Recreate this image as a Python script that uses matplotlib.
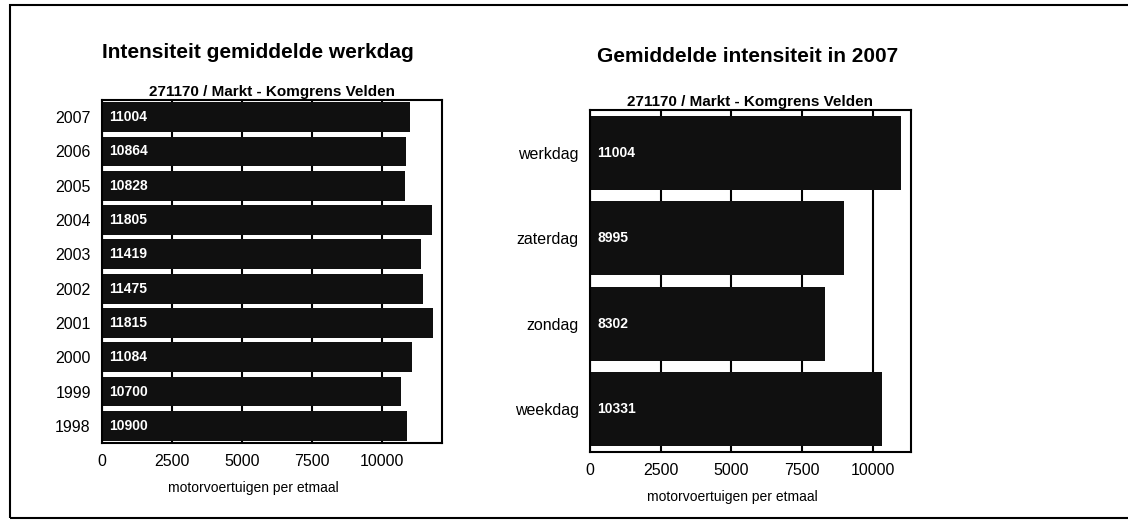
import matplotlib.pyplot as plt
from matplotlib.patches import Rectangle

plt.rcParams['font.family'] = ['Liberation Sans', 'DejaVu Sans']

# linker grafiek: intensiteit gemiddelde werkdag per jaar
jaren = ['2007', '2006', '2005', '2004', '2003', '2002', '2001', '2000', '1999', '1998']
werkdag = [11004, 10864, 10828, 11805, 11419, 11475, 11815, 11084, 10700, 10900]

# rechter grafiek: gemiddelde intensiteit in 2007
dagen = ['werkdag', 'zaterdag', 'zondag', 'weekdag']
intensiteit = [11004, 8995, 8302, 10331]

ticks = [0, 2500, 5000, 7500, 10000]
bar_kleur = '#101010'

fig = plt.figure(figsize=(11.28, 5.28), dpi=100)

# kader rond het geheel
fig.patches.append(Rectangle((10 / 1128, 10 / 528), 1.2, 513 / 528, transform=fig.transFigure,
                             fill=False, edgecolor='black', linewidth=1.5, clip_on=False))


def teken(ax, labels, waarden, xmax):
    n = len(labels)
    pos = list(range(n))
    ax.barh(pos, waarden, height=0.87, color=bar_kleur, zorder=2)
    for p, w in zip(pos, waarden):
        ax.text(250 * xmax / 11350, p, str(w), color='white', fontsize=10, fontweight='bold',
                va='center', ha='left', zorder=3)
    ax.set_ylim(n - 0.5, -0.5)
    ax.set_xlim(0, xmax)
    ax.set_yticks(pos)
    ax.set_yticklabels(labels, fontsize=11.5)
    ax.set_xticks(ticks)
    ax.set_xticklabels([str(t) for t in ticks], fontsize=11.5)
    ax.tick_params(length=0, pad=8)
    ax.grid(axis='x', color='black', linewidth=1.5, zorder=1)
    ax.set_axisbelow(True)
    for s in ax.spines.values():
        s.set_linewidth(1.5)
    ax.set_xlabel('motorvoertuigen per etmaal', fontsize=10)
    ax.xaxis.set_label_coords(0.445, -0.11)
    ax.set_title('271170 / Markt - Komgrens Velden', fontsize=11, fontweight='bold', pad=3)


ax1 = fig.add_axes([0.0904, 0.161, 0.3014, 0.6496])
teken(ax1, jaren, werkdag, 12150)
fig.text(0.229, 1 - 52 / 528, 'Intensiteit gemiddelde werkdag', fontsize=15, fontweight='bold',
         ha='center', va='center')

ax2 = fig.add_axes([0.523, 0.144, 0.2846, 0.6477])
teken(ax2, dagen, intensiteit, 11350)
fig.text(0.663, 1 - 57 / 528, 'Gemiddelde intensiteit in 2007', fontsize=15, fontweight='bold',
         ha='center', va='center')

plt.savefig('out.png', dpi=100)
